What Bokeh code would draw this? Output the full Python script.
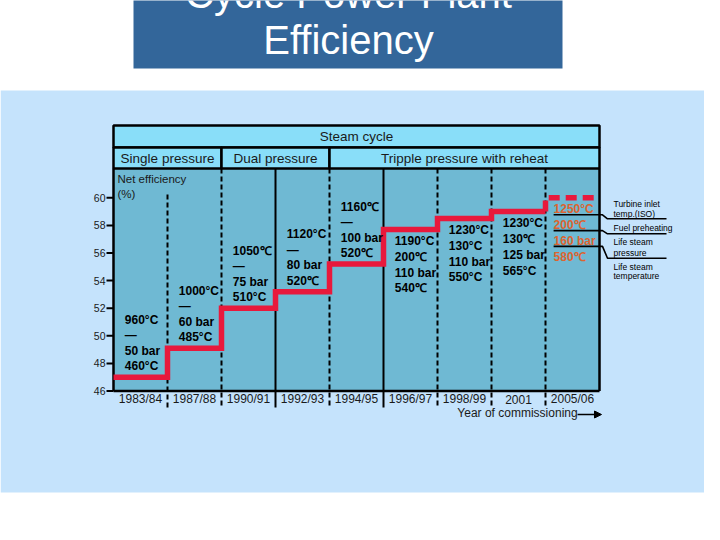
from bokeh.plotting import figure
from bokeh.models import Range1d, Arrow, NormalHead
from bokeh.core.properties import value
from bokeh.embed import file_html
from bokeh.resources import INLINE

# ---------------- data ----------------
years = ["1983/84", "1987/88", "1990/91", "1992/93", "1994/95",
         "1996/97", "1998/99", "2001", "2005/06"]
efficiency = [47.0, 49.1, 52.0, 53.2, 55.2, 57.7, 58.5, 59.0, 60.0]
turbine_inlet = ["960°C", "1000°C", "1050℃", "1120°C", "1160℃",
                 "1190°C", "1230°C", "1230°C", "1250°C"]
fuel_preheat = ["—", "—", "—", "—", "—", "200℃", "130°C", "130℃", "200℃"]
steam_pressure = ["50 bar", "60 bar", "75 bar", "80 bar", "100 bar",
                  "110 bar", "110 bar", "125 bar", "160 bar"]
steam_temp = ["460°C", "485°C", "510°C", "520℃", "520℃",
              "540℃", "550°C", "565°C", "580℃"]
y_ticks = [46, 48, 50, 52, 54, 56, 58, 60]
cycle_groups = ["Single pressure", "Dual pressure", "Tripple pressure with reheat"]
group_columns = [2, 2, 5]
legend_lines = ["Turbine inlet", "temp.(ISO)", "Fuel preheating",
                "Life steam", "pressure", "Life steam", "temperature"]

# ---------------- layout / style ----------------
FONT = value("Liberation Sans")
W, H = 704, 524
PLOT_L, COL_W = 113.0, 54.0
Y0_PX, PXU, Y0 = 390.5, 13.8, 46.0

BG = "#C5E3FC"
TITLE_BG = "#33669A"
HEADER = "#89DEF9"
TEAL = "#6FB9D3"
RED = "#E8193C"
ORANGE = "#DD6430"
INK = "#1a1a1a"
SOLID_DIVIDERS = {3, 5}


def col(px):
    return (px - PLOT_L) / COL_W


def eff(px):
    return Y0 + (Y0_PX - px) / PXU


p = figure(width=W, height=H, x_range=Range1d(0, W), y_range=Range1d(H, 0),
           output_backend="svg", toolbar_location=None, min_border=0,
           x_axis_location=None, y_axis_location=None,
           background_fill_color="white", border_fill_color="white",
           outline_line_color=None)
p.xgrid.visible = False
p.ygrid.visible = False
p.extra_x_ranges = {"col": Range1d(col(0), col(W))}
p.extra_y_ranges = {"eff": Range1d(eff(H), eff(0))}

n = len(years)
YTOP = eff(168)

# background band
p.quad(left=[0], right=[W], top=[90], bottom=[492], fill_color=BG, line_color=None)

# title box
p.quad(left=[133], right=[562], top=[-10], bottom=[68], fill_color=TITLE_BG, line_color=None)
p.text(x=[348, 348], y=[-7, 39], text=["Cycle Power Plant", "Efficiency"],
       text_font=FONT, text_font_size="40px", text_color="white",
       text_align="center", text_baseline="middle")

# plot area
p.quad(left=[0], right=[n], bottom=[Y0], top=[YTOP], fill_color=TEAL, line_color=None,
       x_range_name="col", y_range_name="eff")

# header rows
p.quad(left=[0], right=[n], top=[125], bottom=[147], fill_color=HEADER,
       line_color="black", line_width=2.5, x_range_name="col")
p.text(x=[n / 2], y=[136], text=["Steam cycle"], text_font=FONT, text_font_size="13.5px",
       text_color=INK, text_align="center", text_baseline="middle", x_range_name="col")
edges = [0]
for g in group_columns:
    edges.append(edges[-1] + g)
p.quad(left=edges[:-1], right=edges[1:], top=[147] * 3, bottom=[168] * 3,
       fill_color=HEADER, line_color="black", line_width=2.5, x_range_name="col")
p.text(x=[(a + b) / 2 for a, b in zip(edges[:-1], edges[1:])], y=[157.5] * 3,
       text=cycle_groups, text_font=FONT, text_font_size="13.5px", text_color=INK,
       text_align="center", text_baseline="middle", x_range_name="col")

# column dividers
dash_x = [i for i in range(1, n) if i not in SOLID_DIVIDERS]
solid_x = [i for i in range(1, n) if i in SOLID_DIVIDERS]
p.segment(x0=dash_x, x1=dash_x, y0=[eff(194) if i == 1 else YTOP for i in dash_x],
          y1=[eff(407)] * len(dash_x), line_color="black", line_width=2,
          line_dash="5 3", x_range_name="col", y_range_name="eff")
p.segment(x0=solid_x, x1=solid_x, y0=[YTOP] * len(solid_x), y1=[eff(407)] * len(solid_x),
          line_color="black", line_width=2, x_range_name="col", y_range_name="eff")

# axes
p.segment(x0=[0, 0, n], x1=[0, n, n], y0=[YTOP, Y0, Y0], y1=[Y0, Y0, YTOP],
          line_color="black", line_width=2.5, x_range_name="col", y_range_name="eff")
p.segment(x0=[col(106)] * len(y_ticks), x1=[0] * len(y_ticks), y0=y_ticks, y1=y_ticks,
          line_color="black", line_width=2, x_range_name="col", y_range_name="eff")
p.text(x=[col(105)] * len(y_ticks), y=y_ticks, text=[str(t) for t in y_ticks],
       text_font=FONT, text_font_size="10.5px", text_color=INK,
       text_align="right", text_baseline="middle", x_range_name="col", y_range_name="eff")
p.text(x=[i + 0.5 for i in range(n)], y=[eff(398.5)] * n, text=years,
       text_font=FONT, text_font_size="12px", text_color=INK,
       text_align="center", text_baseline="middle", x_range_name="col", y_range_name="eff")
p.text(x=[col(517)], y=[eff(412)], text=["Year of commissioning"],
       text_font=FONT, text_font_size="12px", text_color=INK,
       text_align="center", text_baseline="middle", x_range_name="col", y_range_name="eff")
p.add_layout(Arrow(end=NormalHead(size=7, fill_color="black", line_color="black"),
                   x_start=577, y_start=414, x_end=601, y_end=414,
                   line_color="black", line_width=1.5))
p.text(x=[117, 117], y=[178, 193], text=["Net efficiency", "(%)"],
       text_font=FONT, text_font_size="11.5px", text_color=INK,
       text_align="left", text_baseline="middle")

# efficiency step line
sx, sy = [], []
for i in range(n - 1):
    sx += [i, i + 1]
    sy += [efficiency[i], efficiency[i]]
p.line(sx, sy, line_color=RED, line_width=5.5, line_join="miter",
       x_range_name="col", y_range_name="eff")
p.line([n - 1, n - 1, n], [efficiency[n - 2], efficiency[n - 1], efficiency[n - 1]],
       line_color=RED, line_width=5.5, line_dash="11 6", line_join="miter",
       x_range_name="col", y_range_name="eff")

# column annotations
tx, ty, tt, tc = [], [], [], []
for i in range(n):
    lines = [turbine_inlet[i], fuel_preheat[i], steam_pressure[i], steam_temp[i]]
    for k, s in enumerate(lines):
        if i < 5:
            dy = (11 + (3 - k) * 15.5) / PXU
        else:
            dy = -(11.5 + k * 15.8) / PXU
        tx.append(i + (0.15 if i == n - 1 else 0.21))
        ty.append(efficiency[i] + dy)
        tt.append(s)
        tc.append(ORANGE if i == n - 1 else "black")
p.text(x=tx, y=ty, text=tt, text_color=tc, text_font=FONT, text_font_size="12px",
       text_font_style="bold", text_align="left", text_baseline="middle",
       x_range_name="col", y_range_name="eff")

# leader lines to legend
leg_y = [218.3, 233.3, 257.7]
xs, ys = [], []
for k in range(3):
    ya = efficiency[n - 1] - (17 + k * 15.8) / PXU
    xs.append([n - 1 + 0.15, col(602), col(607), col(666)])
    ys.append([ya, ya, eff(leg_y[k]), eff(leg_y[k])])
p.multi_line(xs, ys, line_color="black", line_width=1.6,
             x_range_name="col", y_range_name="eff")
p.text(x=[613] * len(legend_lines), y=[203, 213, 227, 241, 252, 266, 275],
       text=legend_lines, text_font=FONT, text_font_size="8.5px", text_color="black",
       text_align="left", text_baseline="middle")

open("out.html", "w").write(file_html(p, INLINE))
